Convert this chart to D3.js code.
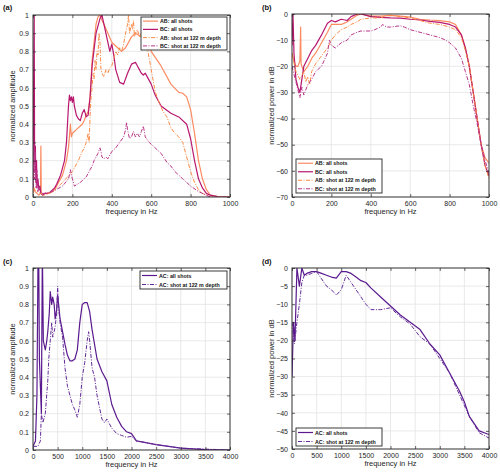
<!DOCTYPE html>
<html><head><meta charset="utf-8">
<script src="https://cdn.jsdelivr.net/npm/d3@7"></script>
<style>body{margin:0;background:#fff}svg{font-family:"Liberation Sans",Arial,sans-serif}</style>
</head><body><svg id="c" width="500" height="474"></svg>
<script>
// ---------- DATA ----------
// panel (a): normalized amplitude, 0..1000 Hz
const aFreqABall = [0,5,10,20,30,38,40,42,50,60,80,100,120,150,170,180,190,195,200,210,220,240,250,260,270,280,290,300,310,320,330,340,350,360,380,400,420,450,470,500,520,550,580,600,650,700,740,760,780,800,820,840,860,880,900,950,1000];
const aValABall  = [0.02,0.05,0.03,0.02,0.01,0.02,0.28,0.02,0.01,0.02,0.02,0.03,0.06,0.12,0.2,0.27,0.4,0.33,0.35,0.36,0.37,0.39,0.4,0.42,0.45,0.47,0.55,0.75,0.85,0.95,0.99,1.0,0.97,0.95,0.9,0.85,0.83,0.8,0.82,0.88,0.9,0.88,0.86,0.8,0.72,0.62,0.575,0.57,0.55,0.48,0.35,0.2,0.1,0.04,0.01,0.0,0.0];
const aFreqBCall = [0,3,6,8,10,12,15,18,20,25,30,35,40,50,60,80,100,110,120,140,160,170,175,180,185,190,195,200,205,210,220,230,240,250,260,270,280,290,300,320,340,350,360,380,390,400,410,420,440,460,480,500,520,530,540,550,560,570,580,600,620,650,700,740,780,800,820,840,860,880,900,950,1000];
const aValBCall  = [0.05,0.6,1.0,0.3,0.15,0.28,0.08,0.2,0.05,0.1,0.04,0.06,0.02,0.01,0.02,0.02,0.04,0.05,0.07,0.12,0.2,0.3,0.4,0.5,0.56,0.53,0.55,0.52,0.55,0.5,0.45,0.43,0.42,0.46,0.48,0.44,0.45,0.55,0.72,0.9,0.98,1.0,0.95,0.85,0.8,0.84,0.78,0.7,0.63,0.62,0.68,0.73,0.74,0.72,0.7,0.68,0.67,0.68,0.66,0.62,0.56,0.5,0.46,0.44,0.4,0.32,0.2,0.1,0.05,0.02,0.01,0.0,0.0];
const aFreqABshot = [0,20,40,60,80,100,150,200,230,250,260,270,280,285,290,295,300,305,310,315,320,325,330,335,340,345,350,360,370,380,390,400,410,420,430,440,450,460,470,480,485,490,500,505,510,515,520,530,540,550,560,570,580,600,620,640,660,680,700,720,740,760,780,800,820,840,860,880,900,1000];
const aValABshot  = [0.05,0.03,0.02,0.01,0.02,0.03,0.08,0.14,0.2,0.25,0.27,0.3,0.35,0.3,0.45,0.55,0.6,0.68,0.65,0.75,0.7,0.8,0.78,0.9,0.85,0.7,0.68,0.66,0.7,0.68,0.71,0.72,0.76,0.8,0.78,0.82,0.8,0.84,0.9,0.95,1.0,0.9,0.95,0.92,0.97,0.88,0.9,0.92,0.88,0.9,0.85,0.83,0.82,0.7,0.58,0.52,0.47,0.44,0.38,0.35,0.33,0.3,0.22,0.14,0.08,0.04,0.02,0.01,0.0,0.0];
const aFreqBCshot = [0,4,8,12,16,20,25,30,40,60,100,150,180,185,190,195,200,210,240,270,290,300,310,320,330,340,345,350,360,370,380,390,400,420,440,460,470,475,480,490,500,510,520,530,540,550,560,570,590,620,650,680,700,720,760,800,840,880,900,1000];
const aValBCshot  = [0.05,0.3,0.1,0.25,0.05,0.15,0.03,0.06,0.02,0.02,0.03,0.06,0.1,0.12,0.15,0.12,0.1,0.06,0.08,0.11,0.15,0.17,0.2,0.22,0.24,0.27,0.25,0.22,0.21,0.22,0.21,0.23,0.25,0.27,0.3,0.33,0.37,0.41,0.37,0.32,0.33,0.36,0.33,0.35,0.33,0.36,0.39,0.33,0.3,0.27,0.24,0.19,0.17,0.14,0.1,0.06,0.03,0.01,0.0,0.0];

// panel (b): normalized power in dB, 0..1000 Hz
const bFreqABall = [0,10,20,30,40,44,46,50,60,80,100,120,150,180,200,220,250,280,300,330,350,400,450,500,550,600,650,700,750,800,830,860,880,900,920,940,960,980,990,1000];
const bValABall  = [-15,-18,-20,-20,-18,-5,-19,-20,-22,-20,-17,-15,-11,-7,-4,-4,-4,-3,-2,-0.5,0,-0.8,-0.8,-0.5,-0.8,-1.2,-2,-2.3,-2.5,-3,-4,-8,-13,-20,-30,-40,-50,-55,-56,-57];
const bFreqBCall = [0,5,10,20,30,40,50,60,80,100,120,150,180,200,220,250,280,300,330,350,400,450,500,550,600,650,700,750,800,830,860,880,900,920,940,960,980,1000];
const bValBCall  = [-12,0,-15,-25,-28,-30,-25,-20,-17,-14,-12,-8,-3.5,-2.5,-3,-2,-2.5,-1,0,0,-1,-1.3,-1.5,-1.6,-2,-2.3,-2.8,-3.2,-4,-5,-8,-13,-20,-30,-40,-50,-58,-62];
const bFreqABshot = [0,20,40,60,70,80,90,100,120,150,180,200,220,250,280,300,330,350,400,450,480,500,550,600,650,700,750,800,830,860,880,900,920,940,960,980,1000];
const bValABshot  = [-15,-22,-25,-22,-26,-24,-27,-22,-19,-16,-13,-10,-8,-6,-5,-4,-3,-2,-1.5,-1.5,-0.5,-0.5,-1,-1.5,-2.5,-3.5,-4,-5,-6,-9,-14,-20,-30,-40,-50,-58,-63];
const bFreqBCshot = [0,20,40,50,60,70,80,100,120,150,180,190,200,220,250,280,300,330,350,400,420,450,460,480,500,550,570,600,650,700,750,780,800,830,860,880,900,920,940,960,980,1000];
const bValBCshot  = [-20,-26,-32,-28,-31,-29,-27,-25,-22,-20,-15,-10,-12,-13,-11,-10,-8,-7,-6.5,-6.5,-6,-5,-4,-5,-5,-4.5,-5,-6,-7,-8,-9,-10,-11,-13,-17,-22,-27,-35,-42,-50,-56,-61];

// panel (c): normalized amplitude, 0..4000 Hz
const cFreqACall = [0,50,80,100,115,130,170,190,210,250,280,300,330,350,380,400,430,450,480,500,520,550,600,650,700,750,800,850,900,950,1000,1050,1100,1150,1200,1300,1400,1500,1600,1700,1800,1900,2000,2100,2500,3000,3500,4000];
const cValACall  = [0.02,0.05,0.3,1.0,1.1,0.5,0.2,1.1,0.6,0.55,0.6,0.65,0.75,0.87,0.8,0.84,0.8,0.72,0.77,0.85,0.8,0.72,0.65,0.58,0.52,0.49,0.49,0.5,0.55,0.7,0.8,0.81,0.81,0.76,0.66,0.5,0.43,0.38,0.25,0.18,0.13,0.1,0.09,0.05,0.03,0.01,0.002,0.0];
const cFreqACshot = [0,100,150,170,200,250,300,320,350,380,400,430,450,480,500,520,550,600,650,700,750,800,850,900,950,1000,1050,1100,1130,1150,1200,1250,1300,1400,1450,1500,1600,1700,1800,1900,2000,2100,2500,3000,4000];
const cValACshot  = [0.02,0.02,0.05,0.2,0.15,0.2,0.38,0.5,0.6,0.7,0.62,0.65,0.68,0.75,0.9,0.78,0.7,0.62,0.45,0.35,0.3,0.25,0.22,0.18,0.25,0.4,0.48,0.6,0.65,0.6,0.45,0.4,0.3,0.17,0.15,0.17,0.12,0.09,0.08,0.07,0.075,0.05,0.03,0.01,0.0];

// panel (d): normalized power in dB, 0..4000 Hz
const dFreqACall = [0,30,60,80,100,150,200,250,300,400,500,600,700,800,900,1000,1100,1200,1300,1400,1500,1600,1800,2000,2200,2400,2600,2800,3000,3200,3400,3500,3600,3800,4000];
const dValACall  = [-30,-15,-20,-10,0,-5,0,-2,-1.5,-1,-1,-1.5,-2,-2.5,-2.8,-1,-1,-1.5,-2.5,-3.5,-4,-5.5,-8,-10.5,-13,-15,-17,-21,-24,-29,-34,-37,-41,-45,-46];
const dFreqACshot = [0,50,100,150,200,250,300,400,500,600,700,800,900,1000,1050,1100,1200,1300,1400,1500,1600,1800,2000,2200,2400,2600,2800,3000,3200,3400,3600,3800,4000];
const dValACshot  = [-15,-21,-15,-10,-4,-2,-2,-1.5,-1,-3,-5,-6,-7.5,-6,-4,-2,-4,-6,-8,-10,-11.5,-11.5,-11,-13.5,-15.5,-19,-21,-25,-29,-35,-41,-45.5,-47];

const labelsAB = ["AB: all shots","BC: all shots","AB: shot at 122 m depth","BC: shot at 122 m depth"];
const labelsAC = ["AC: all shots","AC: shot at 122 m depth"];

// ---------- STYLE ----------
const cAB = "#fb8c62", cBC = "#b8176f", cABs = "#fb8a45", cBCs = "#b93489", cAC = "#5a1a8e", cACs = "#642a98";
const solid = null, dashdot = "4,1.5,1,1.5";

const svg = d3.select("#c");
const zip = (f,v) => f.map((x,i)=>[x,v[i]]);

function panel(id, box, xDom, xTicks, yDom, yTicks, yFmt, ylab, tag, series, legend, legBox){
  const [x0,x1,y0,y1] = box;
  const x = d3.scaleLinear().domain(xDom).range([x0,x1]);
  const y = d3.scaleLinear().domain(yDom).range([y1,y0]);
  const g = svg.append("g");
  g.append("clipPath").attr("id","clip"+id).append("rect").attr("x",x0).attr("y",y0).attr("width",x1-x0).attr("height",y1-y0);
  g.selectAll(".gx").data(xTicks).join("line").attr("x1",d=>x(d)).attr("x2",d=>x(d)).attr("y1",y0).attr("y2",y1).attr("stroke","#e3e3e3").attr("stroke-width",0.8);
  g.selectAll(".gy").data(yTicks).join("line").attr("y1",d=>y(d)).attr("y2",d=>y(d)).attr("x1",x0).attr("x2",x1).attr("stroke","#e3e3e3").attr("stroke-width",0.8);
  const line = d3.line().x(d=>x(d[0])).y(d=>y(d[1]));
  const lg = g.append("g").attr("clip-path","url(#clip"+id+")");
  series.forEach(s=>{
    lg.append("path").attr("d",line(s.data)).attr("fill","none").attr("stroke",s.color).attr("stroke-width",s.w).attr("stroke-dasharray",s.dash).attr("stroke-linejoin","round");
  });
  const ax = g.append("g").attr("transform",`translate(0,${y1})`).call(d3.axisBottom(x).tickValues(xTicks).tickSize(-3).tickPadding(4).tickFormat(d3.format("d")));
  const axt = g.append("g").attr("transform",`translate(0,${y0})`).call(d3.axisTop(x).tickValues(xTicks).tickSize(-3).tickFormat(""));
  const ay = g.append("g").attr("transform",`translate(${x0},0)`).call(d3.axisLeft(y).tickValues(yTicks).tickSize(-3).tickPadding(4).tickFormat(yFmt));
  const ayr = g.append("g").attr("transform",`translate(${x1},0)`).call(d3.axisRight(y).tickValues(yTicks).tickSize(-3).tickFormat(""));
  [ax,axt,ay,ayr].forEach(a=>{a.select(".domain").remove(); a.selectAll("line").attr("stroke","#262626").attr("stroke-width",0.7); a.selectAll("text").attr("font-size","7px").attr("fill","#262626").attr("font-family","Liberation Sans, Arial, sans-serif");});
  g.append("rect").attr("x",x0).attr("y",y0).attr("width",x1-x0).attr("height",y1-y0).attr("fill","none").attr("stroke","#262626").attr("stroke-width",0.9);
  g.append("text").attr("x",(x0+x1)/2).attr("y",y1+17).attr("text-anchor","middle").attr("font-size","7.5px").attr("fill","#262626").text("frequency in Hz");
  g.append("text").attr("transform",`translate(${x0-18},${(y0+y1)/2}) rotate(-90)`).attr("text-anchor","middle").attr("font-size","7.5px").attr("fill","#262626").text(ylab);
  g.append("text").attr("x",tag[1]).attr("y",tag[2]).attr("font-size","7.5px").attr("font-weight","bold").attr("fill","#111").text(tag[0]);
  const [lx0,ly0,lx1,ly1] = legBox;
  g.append("rect").attr("x",lx0).attr("y",ly0).attr("width",lx1-lx0).attr("height",ly1-ly0).attr("fill","#fff").attr("stroke","#262626").attr("stroke-width",0.9);
  const rh = (ly1-ly0)/legend.length;
  legend.forEach((t,i)=>{
    const cy = ly0 + rh*(i+0.5);
    const s = series[i];
    g.append("line").attr("x1",lx0+2).attr("x2",lx0+17).attr("y1",cy).attr("y2",cy).attr("stroke",s.color).attr("stroke-width",s.w).attr("stroke-dasharray",s.dash);
    g.append("text").attr("x",lx0+19).attr("y",cy+2).attr("font-size","5.3px").attr("font-weight","bold").attr("fill","#111").text(t);
  });
}

const fmtAmp = d => d===0?"0":(d===1?"1":d3.format(".1f")(d));
const ampTicks = d3.range(0,11).map(i=>i/10);

panel("a",[33,230,15,197],[0,1000],[0,200,400,600,800,1000],[0,1],ampTicks,fmtAmp,"normalized amplitude",["(a)",3,10],
  [{data:zip(aFreqABall,aValABall),color:cAB,w:1.2,dash:solid},
   {data:zip(aFreqBCall,aValBCall),color:cBC,w:1.2,dash:solid},
   {data:zip(aFreqABshot,aValABshot),color:cABs,w:1,dash:dashdot},
   {data:zip(aFreqBCshot,aValBCshot),color:cBCs,w:1,dash:dashdot}],
  labelsAB,[141,17,227,50]);

panel("b",[292,489,14,197],[0,1000],[0,200,400,600,800,1000],[-70,0],[-70,-60,-50,-40,-30,-20,-10,0],d3.format("d"),"normalized power in dB",["(b)",262,10],
  [{data:zip(bFreqABall,bValABall),color:cAB,w:1.2,dash:solid},
   {data:zip(bFreqBCall,bValBCall),color:cBC,w:1.2,dash:solid},
   {data:zip(bFreqABshot,bValABshot),color:cABs,w:1,dash:dashdot},
   {data:zip(bFreqBCshot,bValBCshot),color:cBCs,w:1,dash:dashdot}],
  labelsAB,[296,159,382,193]);

panel("c",[33,230,268,450],[0,4000],d3.range(0,4001,500),[0,1],ampTicks,fmtAmp,"normalized amplitude",["(c)",3,264],
  [{data:zip(cFreqACall,cValACall),color:cAC,w:1.2,dash:solid},
   {data:zip(cFreqACshot,cValACshot),color:cACs,w:1,dash:dashdot}],
  labelsAC,[140,271,227,289]);

panel("d",[292,489,268,449],[0,4000],d3.range(0,4001,500),[-50,0],d3.range(-50,1,5),d3.format("d"),"normalized power in dB",["(d)",262,264],
  [{data:zip(dFreqACall,dValACall),color:cAC,w:1.2,dash:solid},
   {data:zip(dFreqACshot,dValACshot),color:cACs,w:1,dash:dashdot}],
  labelsAC,[296,428,382,446]);
</script></body></html>
